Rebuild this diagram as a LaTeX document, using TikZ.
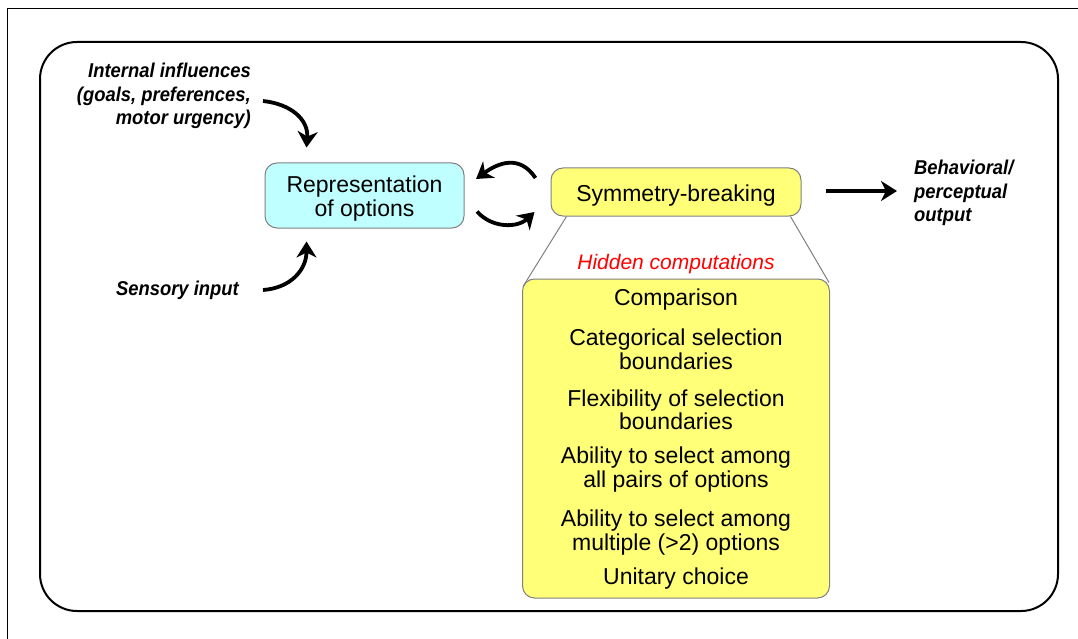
\documentclass[tikz,border=0pt]{standalone}
\usepackage{fontspec}
\setmainfont{Liberation Sans}
\newfontfamily\lblfont[FakeStretch=0.92]{Liberation Sans}
\usetikzlibrary{arrows.meta,calc}
\definecolor{optcyan}{RGB}{192,255,255}
\definecolor{symyellow}{RGB}{255,255,120}
\definecolor{edgegray}{RGB}{128,128,128}
\tikzset{
  box/.style={draw=edgegray, line width=1pt, rounded corners=12pt, align=center, inner sep=0pt, font=\fontsize{23}{23.5}\selectfont},
  lbl/.style={font=\lblfont\bfseries\itshape\fontsize{20}{23.5}\selectfont, inner sep=0pt},
  bigarrow/.style={-{Stealth[length=16pt,width=20pt,inset=5pt]}, line width=3.8pt},
}
\begin{document}
\begin{tikzpicture}[x=1pt,y=-1pt]
    \useasboundingbox (0,0) rectangle (1078,639);
    \draw[line width=1pt] (1078,9) -- (7,9) -- (7,639);
    \draw[line width=2pt, rounded corners=37pt] (40,42) rectangle (1058,611);
    % boxes
    \node[box, fill=optcyan, minimum width=199pt, minimum height=65pt] (repr) at (364.5,195.5) {\rule{0pt}{22.8pt}Representation\\of options};
    \node[box, fill=symyellow, minimum width=250pt, minimum height=48pt] (sym) at (676,192) {\rule{0pt}{22.8pt}Symmetry-breaking};
    \node[font=\itshape\fontsize{21}{24}\selectfont, text=red, inner sep=0pt] (hidden) at (676,264) {Hidden computations};
    \node[box, fill=symyellow, minimum width=307pt, minimum height=319pt] (comp) at (676,438.5) {};
    \foreach \y/\t [count=\i] in {300/Comparison, 349.5/{Categorical selection\\boundaries}, 410/{Flexibility of selection\\boundaries}, 469.5/{Ability to select among\\all pairs of options}, 532.5/{Ability to select among\\multiple (>2) options}, 579/Unitary choice}
        \node[align=center, inner sep=0pt, font=\fontsize{23}{23.5}\selectfont] (item\i) at (676,\y) {\t};
    \draw[edgegray, line width=1pt] ($(sym.south west)+(16,0)$) -- ($(comp.north west)+(1,8)$);
    \draw[edgegray, line width=1pt] ($(sym.south east)+(-11,0)$) -- ($(comp.north east)+(-1,4)$);
    % labels
    \node[lbl, anchor=east, align=right] (infl) at (251,96) {Internal influences\\(goals, preferences,\\motor urgency)};
    \node[lbl, anchor=east] (sens) at (239,290) {Sensory input};
    \node[lbl, anchor=west, align=left] (beh) at (914,193) {Behavioral/\\perceptual\\output};
    % arrows
    \draw[bigarrow] ($(infl.east)+(12,5)$) .. controls +(28,3) and +(2,-28) .. ($(repr.north west)+(42,-15)$);
    \draw[bigarrow] ($(sens.east)+(24,0)$) .. controls +(28,-2) and +(0,28) .. ($(repr.south west)+(42,13)$);
    \draw[bigarrow] ($(repr.east)+(12.5,16)$) .. controls +(15,17) and +(-17,16) .. ($(sym.west)+(-16,20)$);
    \draw[bigarrow] ($(sym.west)+(-15,-14)$) .. controls +(-16,-24) and +(22,-16) .. ($(repr.east)+(11.5,-16.5)$);
    \draw[bigarrow] ($(sym.east)+(24,-1)$) -- ($(beh.west)+(-17,-2)$);
\end{tikzpicture}
\end{document}
